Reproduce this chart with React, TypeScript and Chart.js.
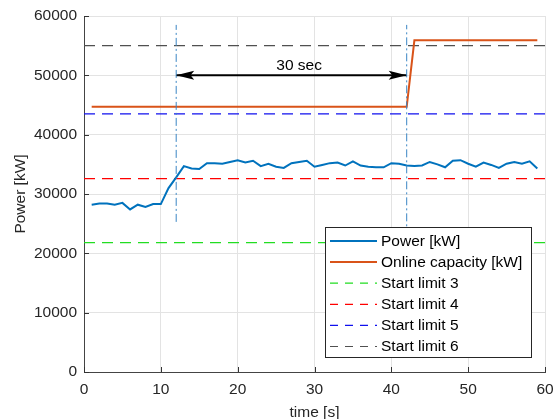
import React, { useEffect, useRef } from "react";
import { Chart, registerables } from "chart.js";

Chart.register(...registerables);

// ---------- data ----------
const timeS = [
  1, 2, 3, 4, 5, 6, 7, 8, 9, 10, 11, 12, 13, 14, 15, 16, 17, 18, 19, 20,
  21, 22, 23, 24, 25, 26, 27, 28, 29, 30, 31, 32, 33, 34, 35, 36, 37, 38, 39, 40,
  41, 42, 43, 44, 45, 46, 47, 48, 49, 50, 51, 52, 53, 54, 55, 56, 57, 58, 59,
];
const powerKW = [
  28200, 28400, 28400, 28200, 28500, 27400, 28200, 27800, 28300, 28300,
  31000, 32800, 34700, 34300, 34200, 35200, 35200, 35100, 35400, 35700,
  35300, 35600, 34700, 35100, 34600, 34400, 35200, 35400, 35600, 34600,
  34900, 35200, 35300, 34800, 35500, 34800, 34600, 34500, 34500, 35200,
  35100, 34800, 34700, 34800, 35400, 35000, 34500, 35600, 35700, 35100,
  34600, 35300, 34900, 34400, 35100, 35400, 35100, 35500, 34300,
];
const capacityTime = [1, 42, 43, 59];
const capacityKW = [44700, 44700, 55900, 55900];

const limitTimes = [0, 60];
const startLimitNames = ["Start limit 3", "Start limit 4", "Start limit 5", "Start limit 6"];
const startLimitKW = [21800, 32600, 43500, 55000];

const markerTimes = [12, 42];
const markerLowKW = [25300, 20000];
const markerHighKW = [58500, 58500];

const arrowTimes = [12, 42];
const arrowLevelKW = 50000;
const arrowText = "30 sec";
const arrowTextPos = [28, 51600];

const xTickValues = [0, 10, 20, 30, 40, 50, 60];
const yTickValues = [0, 10000, 20000, 30000, 40000, 50000, 60000];
const xTitle = "time [s]";
const yTitle = "Power [kW]";
const powerName = "Power [kW]";
const capacityName = "Online capacity [kW]";

// ---------- styles ----------
const FONT = '"Liberation Sans", Arial, Helvetica, sans-serif';
const FS = 15.5;
const BLUE = "#0072BD";
const ORANGE = "#D95319";
const limitColors = ["#22dd22", "#ff0000", "#1010ee", "#505050"];
const DASH = [11, 7];
const LEGEND_DASH = [8, 7];
const MARKER_COLOR = "#3a86c4";
const MARKER_DASH = [8, 3, 2, 3];

const legendItems = [
  { label: powerName, color: BLUE, width: 2, dash: [] as number[] },
  { label: capacityName, color: ORANGE, width: 2, dash: [] as number[] },
  ...startLimitNames.map((n, i) => ({ label: n, color: limitColors[i], width: 1.2, dash: LEGEND_DASH })),
];

const overlayPlugin = {
  id: "overlay",
  afterDraw(chart: any) {
    const { ctx, chartArea } = chart;
    const xs = chart.scales.x;
    const ys = chart.scales.y;
    ctx.save();

    // inward tick marks
    ctx.strokeStyle = "#333";
    ctx.lineWidth = 1;
    ctx.setLineDash([]);
    yTickValues.forEach((v) => {
      const y = Math.round(ys.getPixelForValue(v)) + 0.5;
      ctx.beginPath();
      ctx.moveTo(chartArea.left, y);
      ctx.lineTo(chartArea.left + 5, y);
      ctx.stroke();
    });
    xTickValues.forEach((v) => {
      const x = Math.round(xs.getPixelForValue(v)) + 0.5;
      ctx.beginPath();
      ctx.moveTo(x, chartArea.bottom);
      ctx.lineTo(x, chartArea.bottom - 5);
      ctx.stroke();
    });

    // arrow heads
    const ay = ys.getPixelForValue(arrowLevelKW);
    const xl = xs.getPixelForValue(arrowTimes[0]);
    const xr = xs.getPixelForValue(arrowTimes[1]);
    const len = 18;
    const hw = 4.5;
    ctx.fillStyle = "#000";
    ctx.beginPath();
    ctx.moveTo(xl, ay);
    ctx.lineTo(xl + len, ay - hw);
    ctx.lineTo(xl + len * 0.8, ay);
    ctx.lineTo(xl + len, ay + hw);
    ctx.closePath();
    ctx.fill();
    ctx.beginPath();
    ctx.moveTo(xr, ay);
    ctx.lineTo(xr - len, ay - hw);
    ctx.lineTo(xr - len * 0.8, ay);
    ctx.lineTo(xr - len, ay + hw);
    ctx.closePath();
    ctx.fill();

    // arrow text
    ctx.font = `${FS}px ${FONT}`;
    ctx.textAlign = "center";
    ctx.textBaseline = "middle";
    ctx.fillText(arrowText, xs.getPixelForValue(arrowTextPos[0]), ys.getPixelForValue(arrowTextPos[1]));

    // legend box
    const w = 206;
    const h = 130;
    const bx = chartArea.right - 14 - w;
    const by = chartArea.bottom - 15 - h;
    ctx.fillStyle = "#fff";
    ctx.fillRect(bx, by, w, h);
    ctx.strokeStyle = "#262626";
    ctx.lineWidth = 1;
    ctx.strokeRect(Math.round(bx) + 0.5, Math.round(by) + 0.5, w, h);
    ctx.textAlign = "left";
    legendItems.forEach((it, i) => {
      const y = by + 14 + i * 21.1;
      ctx.strokeStyle = it.color;
      ctx.lineWidth = it.width;
      ctx.setLineDash(it.dash);
      ctx.beginPath();
      ctx.moveTo(bx + 5, y);
      ctx.lineTo(bx + 52, y);
      ctx.stroke();
      ctx.setLineDash([]);
      ctx.fillStyle = "#000";
      ctx.fillText(it.label, bx + 56, y + 0.5);
    });
    ctx.restore();
  },
};

export default function App() {
  const ref = useRef<HTMLCanvasElement | null>(null);

  useEffect(() => {
    const prevMargin = document.body.style.margin;
    document.body.style.margin = "0";
    if (!ref.current) return;

    const hLine = (kw: number) => limitTimes.map((t) => ({ x: t, y: kw }));

    const datasets: any[] = [
      {
        label: powerName,
        data: timeS.map((t, i) => ({ x: t, y: powerKW[i] })),
        borderColor: BLUE,
        borderWidth: 2,
        pointRadius: 0,
        order: 1,
      },
      {
        label: capacityName,
        data: capacityTime.map((t, i) => ({ x: t, y: capacityKW[i] })),
        borderColor: ORANGE,
        borderWidth: 2,
        pointRadius: 0,
        order: 2,
      },
      ...startLimitNames.map((n, i) => ({
        label: n,
        data: hLine(startLimitKW[i]),
        borderColor: limitColors[i],
        borderWidth: 1.2,
        borderDash: DASH,
        pointRadius: 0,
        order: 3,
      })),
      ...markerTimes.map((t, i) => ({
        label: "marker" + i,
        data: [
          { x: t, y: markerLowKW[i] },
          { x: t, y: markerHighKW[i] },
        ],
        borderColor: MARKER_COLOR,
        borderWidth: 1,
        borderDash: MARKER_DASH,
        pointRadius: 0,
        order: 0,
      })),
      {
        label: "arrow",
        data: arrowTimes.map((t) => ({ x: t, y: arrowLevelKW })),
        borderColor: "#000",
        borderWidth: 2,
        pointRadius: 0,
        order: 0,
      },
    ];

    const chart = new Chart(ref.current, {
      type: "line",
      data: { datasets },
      options: {
        animation: false,
        responsive: false,
        devicePixelRatio: 1,
        layout: { padding: { left: 0, right: 8, top: 16, bottom: 0 } },
        plugins: { legend: { display: false }, tooltip: { enabled: false } },
        elements: { line: { tension: 0 } },
        scales: {
          x: {
            type: "linear",
            min: 0,
            max: 60,
            afterFit: (s: any) => {
              s.height = 47;
              s.paddingLeft = 0;
              s.paddingRight = 0;
            },
            afterBuildTicks: (s: any) => {
              s.ticks = xTickValues.map((v) => ({ value: v }));
            },
            ticks: {
              padding: 8,
              color: "#262626",
              font: { family: FONT, size: FS },
              maxRotation: 0,
            },
            grid: { color: "#e3e3e3", lineWidth: 1, drawTicks: false },
            border: { display: true, color: "#444", width: 1 },
            title: {
              display: true,
              text: xTitle,
              color: "#262626",
              font: { family: FONT, size: FS },
              padding: { top: 0, bottom: -3 },
            },
          },
          y: {
            type: "linear",
            min: 0,
            max: 60000,
            afterFit: (s: any) => {
              s.width = 84;
              s.paddingTop = 0;
              s.paddingBottom = 0;
            },
            afterBuildTicks: (s: any) => {
              s.ticks = yTickValues.map((v) => ({ value: v }));
            },
            ticks: {
              padding: 7,
              color: "#262626",
              font: { family: FONT, size: FS },
              callback: (v: any) => String(v),
            },
            grid: { color: "#e3e3e3", lineWidth: 1, drawTicks: false },
            border: { display: true, color: "#444", width: 1 },
            title: {
              display: true,
              text: yTitle,
              color: "#262626",
              font: { family: FONT, size: FS },
              padding: { top: 11, bottom: 0 },
            },
          },
        },
      },
      plugins: [overlayPlugin],
    });

    return () => {
      chart.destroy();
      document.body.style.margin = prevMargin;
    };
  }, []);

  return (
    <div style={{ position: "absolute", left: 0, top: 0, width: 553, height: 419, background: "#fff" }}>
      <canvas ref={ref} width={553} height={419} style={{ width: 553, height: 419, display: "block" }} />
    </div>
  );
}
